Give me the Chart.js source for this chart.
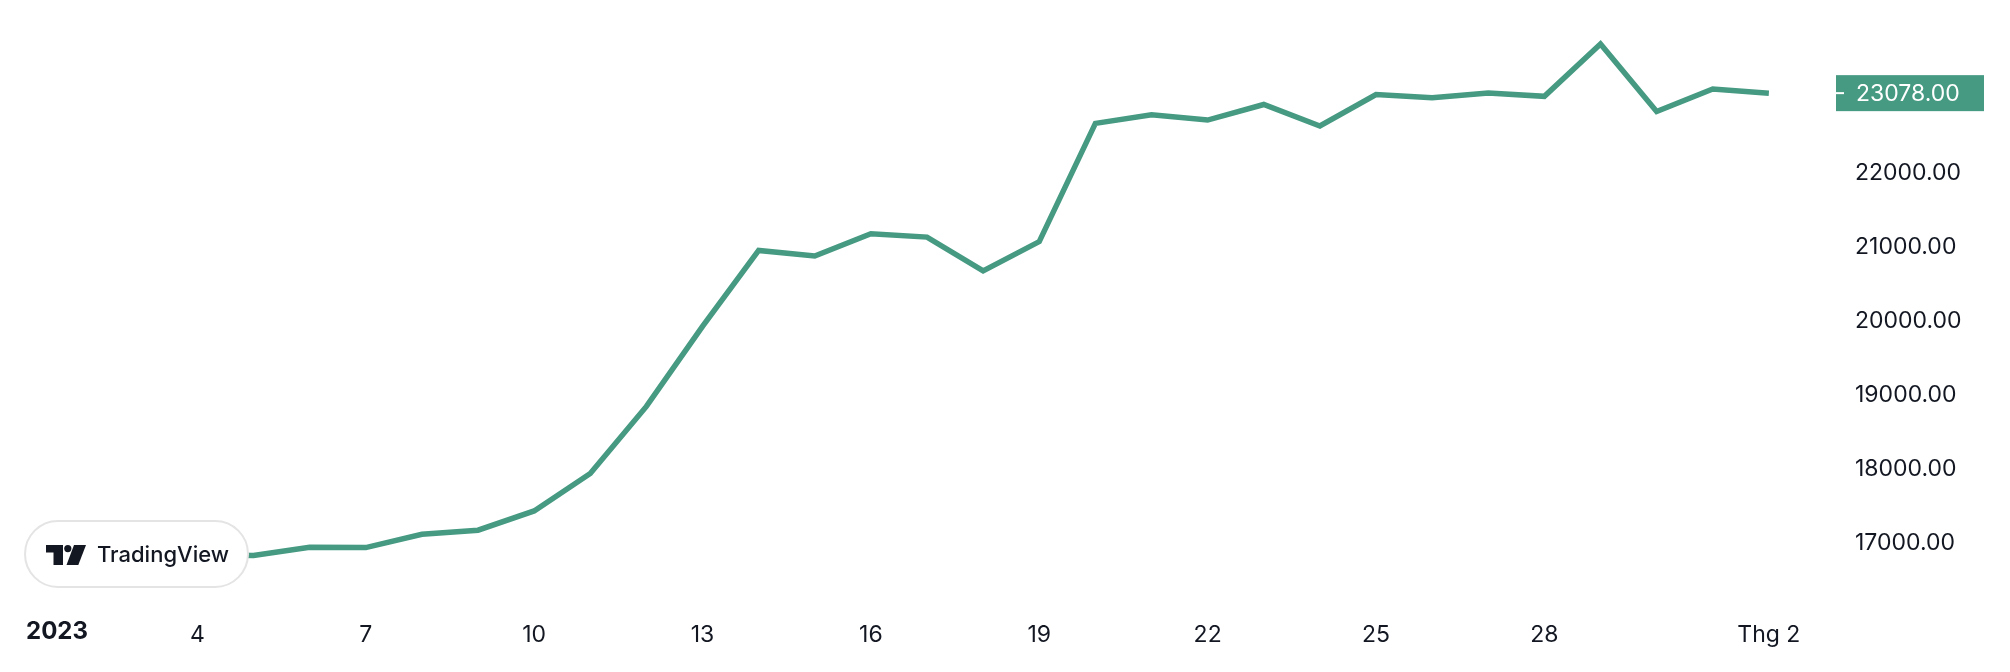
<!DOCTYPE html>
<html>
<head>
<meta charset="utf-8">
<script src="https://cdn.jsdelivr.net/npm/chart.js@4.4.1/dist/chart.umd.min.js"></script>
<style>
  html, body { margin: 0; padding: 0; background: #fff; }
  #wrap { width: 2010px; height: 672px; }
</style>
</head>
<body>
<div id="wrap"><canvas id="priceChart" width="2010" height="672"></canvas></div>
<script>
// ====== DATA ======
// day index: 1 = 1 Jan 2023 ... 32 = 1 Feb 2023
const days = [4, 5, 6, 7, 8, 9, 10, 11, 12, 13, 14, 15, 16,
              17, 18, 19, 20, 21, 22, 23, 24, 25, 26, 27, 28, 29, 30, 31, 32];
const closes = [16850, 16840, 16950, 16945, 17125, 17180, 17440,
                17945, 18850, 19930, 20955, 20880, 21180, 21135, 20680, 21075, 22670,
                22785, 22715, 22925, 22635, 23060, 23015, 23080, 23035, 23740, 22830,
                23135, 23078];
const xTickDays = [1, 4, 7, 10, 13, 16, 19, 22, 25, 28, 32];
const xTickText = { 1: '2023', 32: 'Thg 2' };
const yTicks = [17000, 18000, 19000, 20000, 21000, 22000];
const lastPrice = 23078;

const lineColor = '#469a82';
const textColor = '#131722';
const fontFamily = 'Inter, "Noto Sans", sans-serif';

// ====== PLUGINS ======
// TradingView badge, year label and last-price tag
const overlays = {
    id: 'overlays',
    afterDraw(chart) {
        const ctx = chart.ctx;
        const x = chart.scales.x;
        const y = chart.scales.y;

        // year label (left aligned so it stays in view)
        ctx.save();
        ctx.fillStyle = textColor;
        ctx.font = 'bold 24px ' + fontFamily;
        ctx.textAlign = 'left';
        ctx.textBaseline = 'middle';
        ctx.fillText(xTickText[1], x.getPixelForValue(1) - 3, 632);
        ctx.restore();

        // last price tag
        const py = y.getPixelForValue(lastPrice);
        ctx.save();
        ctx.fillStyle = lineColor;
        ctx.fillRect(1836, py - 18, 148, 36);
        ctx.fillStyle = '#fff';
        ctx.fillRect(1836, py - 1, 8, 2);
        ctx.font = '23px ' + fontFamily;
        ctx.textAlign = 'left';
        ctx.textBaseline = 'middle';
        ctx.fillText(lastPrice.toFixed(2), 1856, py + 1);
        ctx.restore();

        // TradingView badge
        ctx.save();
        const bx = 25, by = 521, bw = 223, bh = 66, r = bh / 2;
        ctx.beginPath();
        ctx.moveTo(bx + r, by);
        ctx.lineTo(bx + bw - r, by);
        ctx.arc(bx + bw - r, by + r, r, -Math.PI / 2, Math.PI / 2);
        ctx.lineTo(bx + r, by + bh);
        ctx.arc(bx + r, by + r, r, Math.PI / 2, Math.PI * 1.5);
        ctx.closePath();
        ctx.fillStyle = '#fff';
        ctx.fill();
        ctx.lineWidth = 2;
        ctx.strokeStyle = '#e4e4e4';
        ctx.stroke();

        // logo mark
        ctx.fillStyle = textColor;
        ctx.fillRect(46, 545, 17, 7.5);
        ctx.fillRect(53.5, 545, 9.5, 20);
        ctx.beginPath();
        ctx.arc(67.8, 548.6, 3.6, 0, Math.PI * 2);
        ctx.fill();
        ctx.beginPath();
        ctx.moveTo(74, 545);
        ctx.lineTo(86, 545);
        ctx.lineTo(78.3, 565);
        ctx.lineTo(66.5, 565);
        ctx.closePath();
        ctx.fill();

        ctx.font = '500 22px ' + fontFamily;
        ctx.textAlign = 'left';
        ctx.textBaseline = 'alphabetic';
        ctx.fillText('TradingView', 97, 562);
        ctx.restore();
    }
};

// ====== CHART ======
const chart = new Chart(document.getElementById('priceChart'), {
    type: 'line',
    data: {
        datasets: [{
            data: days.map((d, i) => ({ x: d, y: closes[i] })),
            borderColor: lineColor,
            borderWidth: 5.5,
            borderJoinStyle: 'miter',
            pointRadius: 0,
            tension: 0,
            fill: false,
            clip: false
        }]
    },
    options: {
        responsive: false,
        animation: false,
        devicePixelRatio: 1,
        layout: { padding: 0 },
        plugins: { legend: { display: false }, tooltip: { enabled: false } },
        scales: {
            x: {
                type: 'linear',
                min: 0.483,
                max: 33,
                grid: { display: false, drawTicks: false },
                border: { display: false },
                afterBuildTicks: s => { s.ticks = xTickDays.map(v => ({ value: v })); },
                afterFit: s => { s.height = 72; s.paddingLeft = 0; s.paddingRight = 0; },
                ticks: {
                    autoSkip: false,
                    maxRotation: 0,
                    padding: 21,
                    color: textColor,
                    font: { family: fontFamily, size: 23 },
                    callback: v => (v === 1 ? '' : (xTickText[v] || String(v)))
                }
            },
            y: {
                position: 'right',
                min: 16238,
                max: 24335,
                grid: { display: false, drawTicks: false },
                border: { display: false },
                afterBuildTicks: s => { s.ticks = yTicks.map(v => ({ value: v })); },
                afterFit: s => { s.width = 185; s.paddingTop = 0; s.paddingBottom = 0; },
                ticks: {
                    padding: 30,
                    color: textColor,
                    font: { family: fontFamily, size: 23 },
                    callback: v => Number(v).toFixed(2)
                }
            }
        }
    },
    plugins: [overlays]
});
</script>
</body>
</html>
